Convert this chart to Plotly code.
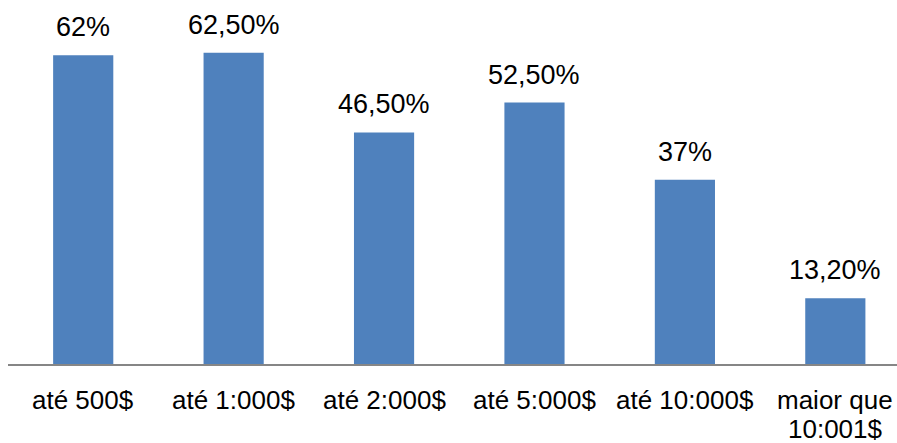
import plotly.graph_objects as go

# Share of respondents by amount range
categories = ["até 500$", "até 1:000$", "até 2:000$", "até 5:000$", "até 10:000$", "maior que<br>10:001$"]
values = [62.0, 62.5, 46.5, 52.5, 37.0, 13.2]
value_labels = ["62%", "62,50%", "46,50%", "52,50%", "37%", "13,20%"]

bar_color = "#4F81BD"
font_family = "Liberation Sans, Arial, sans-serif"
label_font = dict(family=font_family, size=26, color="#000000")

idx = list(range(len(categories)))

fig = go.Figure(
    go.Bar(
        x=idx,
        y=values,
        width=0.4,
        marker=dict(color=bar_color, line=dict(width=0)),
        hoverinfo="skip",
    )
)

# value labels above the bars
for i, v, lab in zip(idx, values, value_labels):
    fig.add_annotation(
        x=i, y=v, text=lab, showarrow=False,
        xanchor="center", yanchor="bottom", yshift=11,
        font=dict(family=font_family, size=27, color="#000000"),
    )

# category labels under the axis, one line per annotation for tighter leading
line_gap = 29
for i, cat in zip(idx, categories):
    for k, line in enumerate(cat.split("<br>")):
        fig.add_annotation(
            x=i, xref="x", y=0, yref="paper", text=line, showarrow=False,
            xanchor="center", yanchor="top", yshift=-20 - k * line_gap,
            borderpad=0, font=label_font,
        )

fig.update_layout(
    width=897, height=443,
    margin=dict(l=8, r=0, t=0, b=79),
    paper_bgcolor="white", plot_bgcolor="white",
    showlegend=False,
    font=dict(family=font_family, size=26, color="#000000"),
    xaxis=dict(
        range=[-0.5, 5.41],
        tickmode="array", tickvals=idx, showticklabels=False,
        showgrid=False, zeroline=False,
        showline=True, linecolor="#868686", linewidth=2,
        ticks="", automargin=False,
    ),
    yaxis=dict(
        range=[0, 73.1], visible=False, showgrid=False, zeroline=False,
        automargin=False,
    ),
)

fig.write_html("out.html")
